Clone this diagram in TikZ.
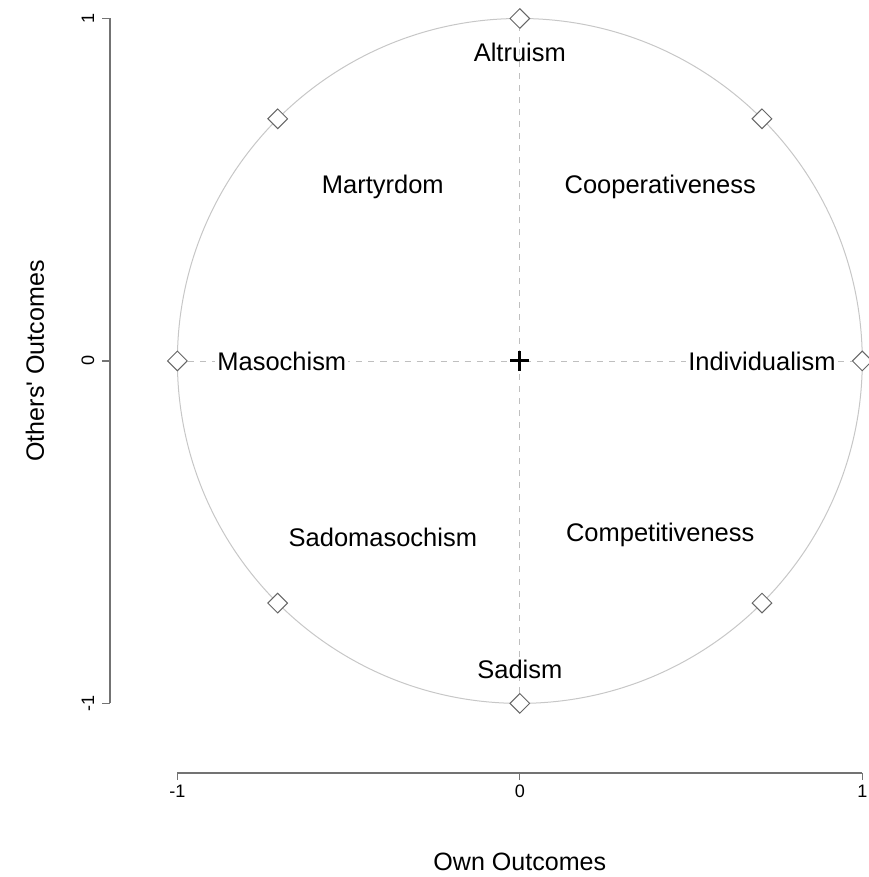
\documentclass[tikz,border=0pt]{standalone}
\usepackage{fontspec}
\setmainfont{Liberation Sans}
\usetikzlibrary{shapes.geometric}

\tikzset{
  quadlabel/.style={font=\fontsize{12.7}{15}\selectfont},
  ticklabel/.style={font=\fontsize{9}{11}\selectfont},
  axistitle/.style={font=\fontsize{12.5}{15}\selectfont},
  pointbox/.style={diamond, draw=black!60, fill=white, line width=0.5pt,
    inner sep=0pt, minimum width=10pt, minimum height=10pt},
  guide/.style={black!25, dashed, line width=0.4pt},
  axisline/.style={black!55, line width=0.6pt}
}

\begin{document}
\begin{tikzpicture}[x=6cm,y=6cm]
\useasboundingbox (-1.518,-1.507) rectangle (1.019,1.054);

% unit circle
\coordinate (o) at (0,0);
\draw[black!22, line width=0.5pt] (o) circle (1);

% points on the circle
\foreach \a in {0,45,...,315}
  \node[pointbox] (d\a) at (\a:1) {};

% guides through the centre
\draw[guide] (d180) -- (d0);
\draw[guide] (d270) -- (d90);

% labels
\node[quadlabel] (altr) at (0,0.902) {Altruism};
\node[quadlabel] (mart) at (-0.40,0.508) {Martyrdom};
\node[quadlabel] (coop) at (0.41,0.508) {Cooperativeness};
\node[quadlabel, fill=white, inner xsep=1pt] (maso) at (-0.695,0) {Masochism};
\node[quadlabel, fill=white, inner xsep=1pt] (indi) at (0.707,0) {Individualism};
\node[quadlabel] (sado) at (-0.40,-0.514) {Sadomasochism};
\node[quadlabel] (comp) at (0.41,-0.508) {Competitiveness};
\node[quadlabel] (sadi) at (0,-0.90) {Sadism};

% centre mark
\draw[line width=1.5pt] ([xshift=-0.028*6cm]o) -- ([xshift=0.028*6cm]o)
  ([yshift=-0.028*6cm]o) -- ([yshift=0.028*6cm]o);

% y axis
\draw[axisline] (-1.197,-1) -- (-1.197,1);
\foreach \v in {-1,0,1} {
  \draw[axisline] (-1.197,\v) -- (-1.220,\v);
  \node[ticklabel, rotate=90] at (-1.261,\v) {\v};
}
\node[axistitle, rotate=90] (ytitle) at (-1.416,0) {Others\textquotesingle{} Outcomes};

% x axis
\draw[axisline] (-1,-1.203) -- (1,-1.203);
\foreach \v in {-1,0,1} {
  \draw[axisline] (\v,-1.203) -- (\v,-1.223);
  \node[ticklabel] at (\v,-1.258) {\v};
}
\node[axistitle] (xtitle) at (0,-1.463) {Own Outcomes};
\end{tikzpicture}
\end{document}
